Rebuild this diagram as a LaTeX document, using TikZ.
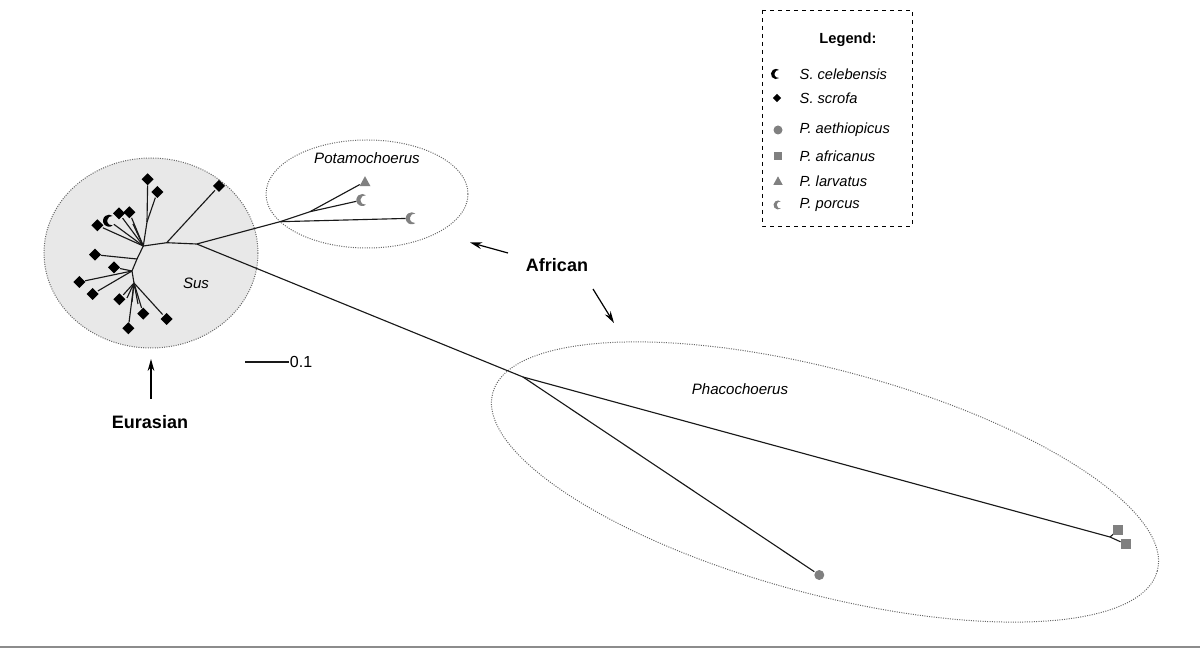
\documentclass[tikz,border=0pt]{standalone}
\usepackage{fontspec}
\setmainfont{Liberation Sans}
\usetikzlibrary{arrows.meta}

\begin{document}
\begin{tikzpicture}[x=0.75pt,y=-0.75pt,
  branch/.style={draw=black!90, line width=0.85pt},
  twig/.style={branch, shorten >=4.5pt},
  clade/.style={draw=black!60, densely dotted, line width=0.75pt},
  callout/.style={-{Stealth[length=9pt,width=5pt]}, line width=0.9pt},
  genus/.style={font=\fontsize{11.3}{13}\selectfont\itshape},
  group/.style={font=\fontsize{13.5}{16}\selectfont\bfseries},
  legtext/.style={anchor=west, font=\fontsize{11}{13}\selectfont\itshape},
  pics/dia/.style={code={\fill[#1] (-6,0) -- (0,-6) -- (6,0) -- (0,6) -- cycle;}},
  pics/dia/.default=black,
  pics/sq/.style={code={\fill[#1] (-5,-5) rectangle (5,5);}},
  pics/sq/.default=gray,
  pics/dot/.style={code={\fill[#1] (0,0) circle[radius=5];}},
  pics/dot/.default=gray,
  pics/tri/.style={code={\fill[#1] (0,-5.5) -- (5.5,4.5) -- (-5.5,4.5) -- cycle;}},
  pics/tri/.default=gray,
  pics/moon/.style={code={\fill[#1] (52.4:6) arc[start angle=52.4,end angle=307.6,radius=6]
      arc[start angle=277.9,end angle=82.1,radius=4.8] -- cycle;}},
  pics/moon/.default=black]

\useasboundingbox (0,0) rectangle (1200,648);
\fill[black!45] (0,645.5) rectangle (1200,648);

% clades
\draw[clade, fill=black!9] (151,253) ellipse[x radius=107, y radius=95];
\draw[clade] (367,194) ellipse[x radius=101, y radius=54];
\draw[clade, rotate around={-15:(825,482)}] (825,482) ellipse[x radius=344, y radius=112];

\node[genus] (sus) at (196,283) {Sus};
\node[genus] (pota) at (367,158) {Potamochoerus};
\node[genus] (phaco) at (740,389) {Phacochoerus};

% tree
\coordinate (hub) at (196.7,244);
\coordinate (s2) at (166.7,242.7);
\coordinate (s3) at (143.3,246);
\coordinate (s4) at (137,259);
\coordinate (s5) at (132,271);
\coordinate (s6) at (134,283);
\coordinate (s7) at (147,222);

\coordinate (sd1) at (147.7,179.3);
\coordinate (sd2) at (157.3,192);
\coordinate (sd3) at (219,186);
\coordinate (sc1) at (109,220.7);
\coordinate (sd4) at (119,213.3);
\coordinate (sd5) at (129.3,212.3);
\coordinate (sd6) at (97.3,225.3);
\coordinate (sd7) at (95,254.7);
\coordinate (sd8) at (114,267.3);
\coordinate (sd9) at (79.3,282);
\coordinate (sd10) at (92.7,294);
\coordinate (sd11) at (119.3,299.3);
\coordinate (sd12) at (143.3,313.7);
\coordinate (sd13) at (166.7,319);
\coordinate (sd14) at (128.3,328.3);
\coordinate (sx1) at (133,224);
\coordinate (sx2) at (127,298);
\coordinate (sx3) at (132,302);
\coordinate (sx4) at (138,304);

\coordinate (p1) at (280,221.7);
\coordinate (p2) at (310,211.7);
\coordinate (pt) at (365,181.7);
\coordinate (pc1) at (362.3,200);
\coordinate (pc2) at (411.7,218.3);

\coordinate (h1) at (523,377);
\coordinate (h2) at (1110,537);
\coordinate (ha) at (819.3,575);
\coordinate (hq1) at (1118.3,530);
\coordinate (hq2) at (1126,544.3);

\draw[branch] (hub) -- (s2) -- (s3) -- (s4) -- (s5) -- (s6);
\draw[branch] (s3) -- (s7);
\draw[branch] (s3) -- (sx1);
\draw[branch] (s6) -- (sx2) (s6) -- (sx3) (s6) -- (sx4);
\foreach \a/\b in {s7/sd1, s7/sd2, s2/sd3, s3/sc1, s3/sd4, s3/sd5, s3/sd6, s4/sd7,
    s5/sd8, s5/sd9, s5/sd10, s6/sd11, s6/sd12, s6/sd13, s6/sd14}
  \draw[twig] (\a) -- (\b);
\draw[branch] (hub) -- (p1) -- (p2);
\foreach \a/\b in {p2/pt, p2/pc1, p1/pc2, h2/hq1, h2/hq2, h1/ha}
  \draw[twig] (\a) -- (\b);
\draw[branch] (hub) -- (h1) -- (h2);

\foreach \p in {sd1,sd2,sd3,sd4,sd5,sd6,sd7,sd8,sd9,sd10,sd11,sd12,sd13,sd14}
  \pic at (\p) {dia};
\pic at (sc1) {moon};
\pic at (pt) {tri};
\pic at (pc1) {moon=gray};
\pic at (pc2) {moon=gray};
\pic at (ha) {dot};
\pic at (hq1) {sq};
\pic at (hq2) {sq};

% scale bar
\node[anchor=west, inner sep=0.5pt, font=\fontsize{12}{14}\selectfont] (sbl) at (289,362) {0.1};
\coordinate (sb1) at (245,362);
\draw[branch] (sb1) -- (sbl.west);

% group labels
\node[group] (eur) at (150,422) {Eurasian};
\node[group] (afr) at (557,265) {African};
\coordinate (e1) at (151,399);
\coordinate (e2) at (151,359);
\coordinate (a1) at (508,253);
\coordinate (a2) at (470,242.5);
\coordinate (a3) at (593,289);
\coordinate (a4) at (614,323);
\draw[callout] (e1) -- (e2);
\draw[callout] (a1) -- (a2);
\draw[callout] (a3) -- (a4);

% legend
\draw[dashed, line width=0.7pt] (762,10) rectangle (912,226);
\node[font=\fontsize{11}{13}\selectfont\bfseries] (leg) at (848,40) {Legend:};
\pic[scale=0.85] at (776,74) {moon};
\pic[scale=0.7] at (777,98) {dia};
\pic[scale=0.9] at (778,130) {dot};
\pic[scale=0.85] at (778,156) {sq};
\pic[scale=0.85] at (778,181) {tri};
\pic[scale=0.75] at (778,205) {moon=gray};
\foreach \y/\t in {74/S. celebensis, 98/S. scrofa, 130/P. aethiopicus,
    156/P. africanus, 181/P. larvatus, 205/P. porcus}
  \node[legtext] at (795,\y) {\t};

\end{tikzpicture}
\end{document}
